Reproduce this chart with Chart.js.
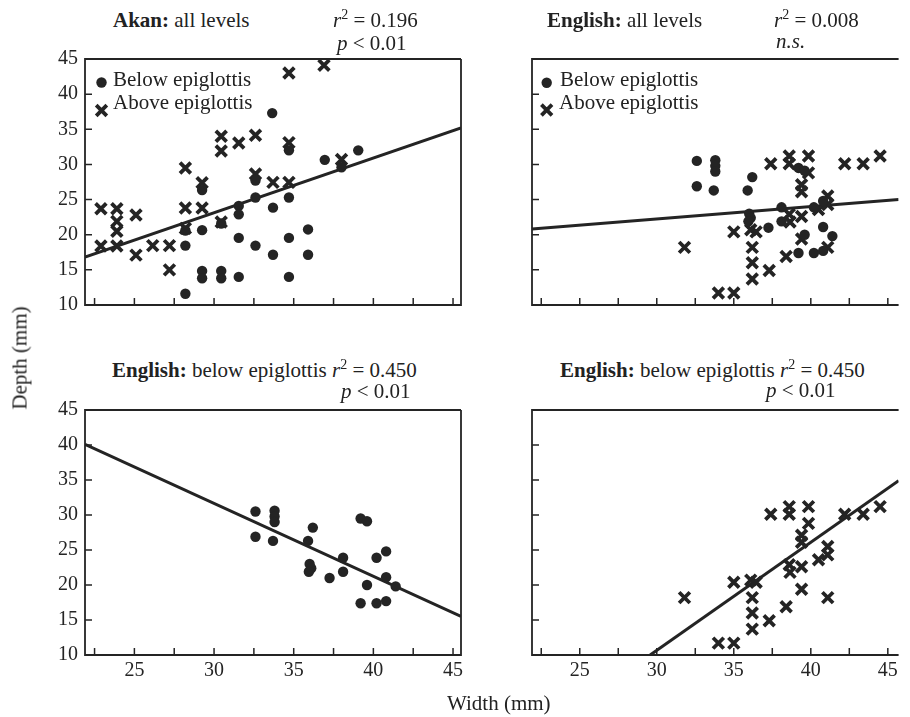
<!DOCTYPE html>
<html>
<head>
<meta charset="utf-8">
<script src="https://cdn.jsdelivr.net/npm/chart.js@4.4.1/dist/chart.umd.min.js"></script>
<style>
  html, body { margin: 0; padding: 0; background: #fff; overflow: hidden; }
  body { width: 910px; height: 717px; position: relative; font-family: "Liberation Serif", "Times New Roman", serif; color: #222; }
  canvas { position: absolute; }
  .t { position: absolute; font-size: 21px; line-height: 21px; white-space: nowrap; }
  .sup { font-size: 14px; position: relative; top: -8px; }
  .rot { transform: translate(-50%, -50%) rotate(-90deg); }
</style>
</head>
<body>
<canvas id="akanAll" width="475" height="280" style="left:0;top:45px"></canvas>
<canvas id="engAll" width="430" height="280" style="left:480px;top:45px"></canvas>
<canvas id="engBelow" width="475" height="300" style="left:0;top:396px"></canvas>
<canvas id="engAbove" width="430" height="300" style="left:480px;top:396px"></canvas>

<div class="t" style="left:113px;top:10px"><b>Akan:</b> all levels</div>
<div class="t" style="left:333px;top:10px"><i>r</i><span class="sup">2</span> = 0.196</div>
<div class="t" style="left:337px;top:33px"><i>p</i> &lt; 0.01</div>
<div class="t" style="left:547px;top:10px"><b>English:</b> all levels</div>
<div class="t" style="left:774px;top:10px"><i>r</i><span class="sup">2</span> = 0.008</div>
<div class="t" style="left:776px;top:31px"><i>n.s.</i></div>
<div class="t" style="left:112px;top:360px"><b>English:</b> below epiglottis <i>r</i><span class="sup">2</span> = 0.450</div>
<div class="t" style="left:341px;top:381px"><i>p</i> &lt; 0.01</div>
<div class="t" style="left:560px;top:360px"><b>English:</b> below epiglottis <i>r</i><span class="sup">2</span> = 0.450</div>
<div class="t" style="left:766px;top:380px"><i>p</i> &lt; 0.01</div>

<div class="t" style="left:113px;top:69px">Below epiglottis</div>
<div class="t" style="left:113px;top:92px">Above epiglottis</div>
<div class="t" style="left:560px;top:69px">Below epiglottis</div>
<div class="t" style="left:559px;top:92px">Above epiglottis</div>

<div class="t" style="left:447px;top:693px">Width (mm)</div>
<div class="t rot" style="left:20px;top:358px">Depth (mm)</div>

<script>
// tick positions and labels
const xTicks = [22.5, 25, 27.5, 30, 32.5, 35, 37.5, 40, 42.5, 45];
const xTickLabels = ['', '25', '', '30', '', '35', '', '40', '', '45'];
const yTicks = [10, 15, 20, 25, 30, 35, 40, 45];
const yTickLabels = ['10', '15', '20', '25', '30', '35', '40', '45'];

// Akan, all levels
const akanAboveX = [22.9, 23.9, 23.9, 23.9, 22.9, 23.9, 25.1, 25.1, 26.15, 27.2, 27.2, 28.2, 28.2, 28.2, 29.25, 29.25, 30.45, 30.45, 30.45, 31.55, 32.6, 32.6, 33.7, 34.7, 34.7, 34.7, 36.9, 38.0];
const akanAboveY = [23.7, 23.7, 21.9, 20.5, 18.4, 18.4, 22.8, 17.1, 18.45, 18.45, 15.0, 29.5, 23.8, 20.9, 27.4, 23.8, 34.0, 31.9, 21.8, 33.05, 34.15, 28.65, 27.45, 43.0, 33.1, 27.45, 44.1, 30.7];
const akanBelowX = [28.2, 28.2, 28.2, 29.25, 29.25, 29.25, 29.25, 30.45, 30.45, 30.45, 31.55, 31.55, 31.55, 31.55, 32.6, 32.6, 32.6, 33.65, 33.7, 33.7, 34.7, 34.7, 34.7, 34.7, 35.9, 35.9, 36.95, 38.0, 39.05];
const akanBelowY = [20.6, 18.45, 11.6, 26.35, 20.65, 14.85, 13.8, 21.6, 14.85, 13.8, 24.1, 22.9, 19.55, 14.0, 27.7, 25.3, 18.45, 37.3, 23.85, 17.15, 32.0, 25.3, 19.55, 14.0, 20.75, 17.15, 30.65, 29.6, 32.0];
const akanFitX = [21.9, 45.5];
const akanFitY = [16.8, 35.2];

// English, below epiglottis
const engBelowX = [32.6, 33.8, 33.8, 33.8, 32.6, 33.7, 36.2, 35.9, 36.0, 36.1, 35.95, 37.25, 38.1, 38.1, 39.2, 39.6, 39.6, 39.2, 40.2, 40.8, 40.2, 40.8, 40.8, 41.4];
const engBelowY = [30.5, 30.6, 29.8, 29.0, 26.9, 26.3, 28.2, 26.3, 23.0, 22.4, 21.9, 21.0, 23.9, 21.9, 29.5, 29.1, 20.0, 17.4, 17.4, 17.7, 23.9, 24.8, 21.1, 19.8];
const engBelowFitX = [21.9, 45.5];
const engBelowFitY = [40.1, 15.5];

// English, above epiglottis
const engAboveX = [31.8, 35.0, 34.0, 35.0, 36.1, 36.45, 36.2, 36.2, 36.2, 37.3, 37.4, 38.4, 38.6, 38.6, 38.6, 38.65, 39.4, 39.4, 39.4, 39.4, 39.85, 39.85, 40.5, 41.1, 41.1, 41.1, 42.2, 43.4, 44.5];
const engAboveY = [18.2, 20.4, 11.7, 11.7, 20.7, 20.4, 18.2, 16.0, 13.7, 14.9, 30.1, 16.9, 31.2, 30.1, 22.9, 21.8, 27.1, 26.1, 22.6, 19.4, 31.2, 28.8, 23.6, 25.5, 24.3, 18.2, 30.1, 30.1, 31.2];
const engAboveFitX = [29.57, 45.7];
const engAboveFitY = [10, 34.9];

// English, all levels
const engAllFitX = [21.9, 45.7];
const engAllFitY = [20.8, 25.0];

const ink = '#242424';
const serif = "'Liberation Serif', 'Times New Roman', serif";

function pts(xs, ys) {
  return xs.map((x, i) => ({ x: x, y: ys[i] }));
}
function dots(xs, ys) {
  return { data: pts(xs, ys), pointStyle: 'circle', pointRadius: 5.2, pointBackgroundColor: ink, pointBorderWidth: 0 };
}
function crosses(xs, ys) {
  return { data: pts(xs, ys), pointStyle: 'crossRot', pointRadius: 7.6, pointBorderColor: ink, pointBorderWidth: 3.8 };
}
function fitLine(xs, ys) {
  return { data: pts(xs, ys), showLine: true, borderColor: ink, borderWidth: 3, pointRadius: 0 };
}

// box + inward ticks + legend markers
const framePlugin = {
  id: 'frame',
  afterDatasetsDraw(chart, args, o) {
    const { ctx, chartArea: a, scales } = chart;
    ctx.save();
    ctx.strokeStyle = ink;
    ctx.lineWidth = 1.8;
    ctx.beginPath();
    ctx.moveTo(a.right, a.top);
    ctx.lineTo(a.left, a.top);
    ctx.lineTo(a.left, a.bottom);
    ctx.lineTo(a.right, a.bottom);
    if (!o.openRight) ctx.lineTo(a.right, a.top);
    ctx.stroke();
    ctx.lineWidth = 1.5;
    ctx.beginPath();
    scales.x.ticks.forEach(t => {
      const px = scales.x.getPixelForValue(t.value);
      ctx.moveTo(px, a.bottom);
      ctx.lineTo(px, a.bottom - 7);
    });
    scales.y.ticks.forEach(t => {
      const py = scales.y.getPixelForValue(t.value);
      ctx.moveTo(a.left, py);
      ctx.lineTo(a.left + 7, py);
    });
    ctx.stroke();
    if (o.legend) {
      const lx = a.left + o.legend.dx;
      ctx.fillStyle = ink;
      ctx.beginPath();
      ctx.arc(lx, a.top + o.legend.dotY, 5.2, 0, Math.PI * 2);
      ctx.fill();
      const cy = a.top + o.legend.crossY, h = 5.3;
      ctx.lineWidth = 3.8;
      ctx.beginPath();
      ctx.moveTo(lx - h, cy - h); ctx.lineTo(lx + h, cy + h);
      ctx.moveTo(lx - h, cy + h); ctx.lineTo(lx + h, cy - h);
      ctx.stroke();
    }
    ctx.restore();
  }
};

function panel(id, box, datasets, cfg) {
  const tickFont = { family: serif, size: 20 };
  return new Chart(document.getElementById(id), {
    type: 'scatter',
    data: { datasets: datasets },
    plugins: [framePlugin],
    options: {
      animation: false,
      responsive: false,
      events: [],
      layout: { padding: { left: 0, right: box.w - box.r, top: box.t, bottom: 0 } },
      plugins: {
        legend: { display: false },
        tooltip: { enabled: false },
        frame: { openRight: cfg.openRight, legend: cfg.legend }
      },
      scales: {
        x: {
          type: 'linear', min: 21.9, max: cfg.xMax,
          grid: { display: false, drawTicks: false },
          border: { display: false },
          afterBuildTicks: s => { s.ticks = xTicks.map(v => ({ value: v })); },
          afterFit: s => { s.height = box.h - box.b; s.paddingLeft = 0; s.paddingRight = 0; },
          ticks: { display: cfg.showX, autoSkip: false, maxRotation: 0, padding: 4, color: ink, font: tickFont,
                   callback: (v, i) => xTickLabels[i] }
        },
        y: {
          type: 'linear', min: 10, max: 45,
          grid: { display: false, drawTicks: false },
          border: { display: false },
          afterBuildTicks: s => { s.ticks = yTicks.map(v => ({ value: v })); },
          afterFit: s => { s.width = box.l; s.paddingTop = 0; s.paddingBottom = 0; },
          ticks: { display: cfg.showY, autoSkip: false, padding: 7, color: ink, font: tickFont,
                   callback: (v, i) => yTickLabels[i] }
        }
      }
    }
  });
}

panel('akanAll', { w: 475, h: 280, l: 85, r: 461, t: 14, b: 260 },
  [dots(akanBelowX, akanBelowY), crosses(akanAboveX, akanAboveY), fitLine(akanFitX, akanFitY)],
  { xMax: 45.5, showX: false, showY: true, openRight: false, legend: { dx: 16.5, dotY: 23.5, crossY: 51.5 } });

panel('engAll', { w: 430, h: 280, l: 52, r: 430, t: 14, b: 260 },
  [dots(engBelowX, engBelowY), crosses(engAboveX, engAboveY), fitLine(engAllFitX, engAllFitY)],
  { xMax: 45.7, showX: false, showY: false, openRight: true, legend: { dx: 14.7, dotY: 23.7, crossY: 51 } });

panel('engBelow', { w: 475, h: 300, l: 85, r: 461, t: 14, b: 259 },
  [dots(engBelowX, engBelowY), fitLine(engBelowFitX, engBelowFitY)],
  { xMax: 45.5, showX: true, showY: true, openRight: false });

panel('engAbove', { w: 430, h: 300, l: 52, r: 430, t: 14, b: 259 },
  [crosses(engAboveX, engAboveY), fitLine(engAboveFitX, engAboveFitY)],
  { xMax: 45.7, showX: true, showY: false, openRight: true });
</script>
</body>
</html>
